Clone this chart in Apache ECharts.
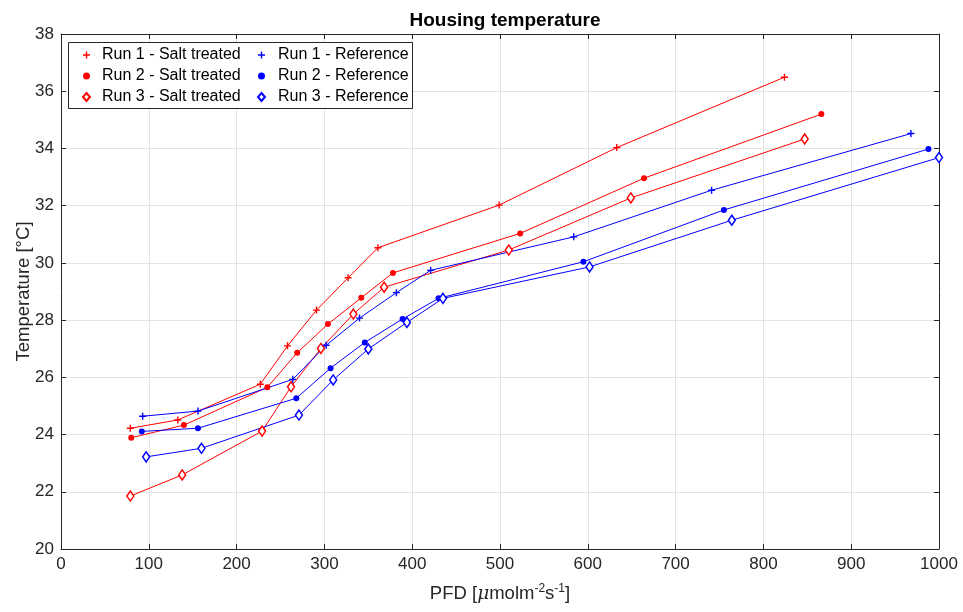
<!DOCTYPE html>
<html>
<head>
<meta charset="utf-8">
<title>Housing temperature</title>
<script src="https://cdn.jsdelivr.net/npm/echarts@6/dist/echarts.min.js"></script>
<style>
  html, body { margin: 0; padding: 0; background: #fff; }
  #chart { width: 963px; height: 612px; }
</style>
</head>
<body>
<div id="chart"></div>
<script>
  // PFD (x) and temperature (y) per run
  const pfdSalt1 = [79, 133, 227, 258, 291, 327, 361, 499, 633, 824];
  const tempSalt1 = [24.22, 24.51, 25.76, 27.10, 28.35, 29.48, 30.53, 32.02, 34.03, 36.49];
  const pfdSalt2 = [80, 140, 235, 269, 304, 342, 378, 523, 664, 866];
  const tempSalt2 = [23.89, 24.33, 25.65, 26.86, 27.86, 28.78, 29.65, 31.03, 32.96, 35.20];
  const pfdSalt3 = [79, 138, 229, 262, 296, 333, 368, 510, 649, 847];
  const tempSalt3 = [21.85, 22.59, 24.12, 25.67, 27.01, 28.21, 29.15, 30.45, 32.27, 34.33];
  const pfdRef1 = [93, 156, 264, 302, 340, 382, 421, 584, 741, 968];
  const tempRef1 = [24.64, 24.82, 25.93, 27.12, 28.07, 28.96, 29.74, 30.91, 32.54, 34.52];
  const pfdRef2 = [92, 156, 268, 307, 346, 389, 430, 595, 755, 988];
  const tempRef2 = [24.11, 24.22, 25.27, 26.32, 27.22, 28.04, 28.76, 30.04, 31.85, 33.98];
  const pfdRef3 = [97, 160, 271, 310, 350, 394, 435, 602, 764, 1000];
  const tempRef3 = [23.22, 23.52, 24.68, 25.91, 26.99, 27.92, 28.76, 29.86, 31.49, 33.68];

  const saltNames = ['Run 1 - Salt treated', 'Run 2 - Salt treated', 'Run 3 - Salt treated'];
  const refNames = ['Run 1 - Reference', 'Run 2 - Reference', 'Run 3 - Reference'];

  const plusIcon = 'path://M4,0H6V4H10V6H6V10H4V6H0V4H4Z';
  const axisColor = '#262626';
  const font = 'Liberation Sans, Arial, Helvetica, sans-serif';

  function zip(xs, ys) {
    let out = [];
    for (let i = 0; i < xs.length; i++) {
      out.push([xs[i], ys[i]]);
    }
    return out;
  }

  function makeSeries(name, xs, ys, color, marker) {
    let s = {
      name: name,
      type: 'line',
      data: zip(xs, ys),
      lineStyle: { color: color, width: 1 },
      itemStyle: { color: color },
      emphasis: { disabled: true },
      animation: false,
      z: 2
    };
    if (marker === 'plus') {
      s.symbol = plusIcon;
      s.symbolSize = 7;
    } else if (marker === 'dot') {
      s.symbol = 'circle';
      s.symbolSize = 6;
    } else {
      s.symbol = 'diamond';
      s.symbolSize = [7, 10];
      s.itemStyle = { color: '#fff', borderColor: color, borderWidth: 1.5 };
    }
    return s;
  }

  function legendCol(left, names, textPad) {
    return {
      orient: 'vertical',
      left: left,
      top: 47,
      itemWidth: 7,
      itemHeight: 8,
      itemGap: 5,
      padding: 0,
      selectedMode: false,
      textStyle: { fontSize: 16, color: '#000', fontFamily: font, padding: [0, 0, 0, textPad] },
      data: [
        { name: names[0], icon: plusIcon },
        { name: names[1], icon: 'circle' },
        { name: names[2], icon: 'diamond' }
      ]
    };
  }

  const frameAxis = {
    axisLine: { show: true, onZero: false, lineStyle: { color: axisColor, width: 1 } },
    axisTick: { show: true, inside: true, length: 5, lineStyle: { color: axisColor } },
    axisLabel: { show: false },
    splitLine: { show: false }
  };

  const chart = echarts.init(document.getElementById('chart'));
  chart.setOption({
    animation: false,
    textStyle: { fontFamily: font },
    title: {
      text: 'Housing temperature',
      left: 500,
      top: 6,
      textAlign: 'center',
      textStyle: { fontSize: 19, fontWeight: 'bold', color: '#000', fontFamily: font }
    },
    grid: { left: 61, right: 24, top: 34, bottom: 63, containLabel: false, outerBoundsMode: 'none' },
    legend: [
      legendCol(82, saltNames, 7),
      legendCol(257, refNames, 8)
    ],
    graphic: [
      {
        type: 'rect',
        z: 3,
        shape: { x: 68.5, y: 42.5, width: 344, height: 66 },
        style: { fill: '#fff', stroke: axisColor, lineWidth: 1 }
      }
    ],
    xAxis: [
      {
        type: 'value',
        min: 0,
        max: 1000,
        interval: 100,
        name: 'PFD [{mu|μ}molm{sup|-2}s{sup|-1}]',
        nameLocation: 'middle',
        nameGap: 34,
        nameTextStyle: {
          fontSize: 18.5,
          color: axisColor,
          fontFamily: font,
          rich: {
            mu: { fontSize: 18.5, fontStyle: 'italic', color: axisColor, fontFamily: 'DejaVu Serif' },
            sup: { fontSize: 12, color: axisColor, padding: [0, 0, 10, 0], fontFamily: font }
          }
        },
        axisLine: { show: true, onZero: false, lineStyle: { color: axisColor, width: 1 } },
        axisTick: { show: true, inside: true, length: 5, lineStyle: { color: axisColor } },
        axisLabel: {
          fontSize: 17,
          color: axisColor,
          margin: 7,
          fontFamily: font,
          formatter: function (v) { return String(v); }
        },
        splitLine: { show: true, lineStyle: { color: '#e3e3e3', width: 1 } }
      },
      Object.assign({ type: 'value', position: 'top', min: 0, max: 1000, interval: 100 }, frameAxis)
    ],
    yAxis: [
      {
        type: 'value',
        min: 20,
        max: 38,
        interval: 2,
        name: 'Temperature [°C]',
        nameLocation: 'middle',
        nameGap: 28,
        nameMoveOverlap: false,
        nameTextStyle: { fontSize: 18.5, color: axisColor, fontFamily: font },
        axisLine: { show: true, onZero: false, lineStyle: { color: axisColor, width: 1 } },
        axisTick: { show: true, inside: true, length: 5, lineStyle: { color: axisColor } },
        axisLabel: { fontSize: 17, color: axisColor, margin: 7, fontFamily: font },
        splitLine: { show: true, lineStyle: { color: '#e3e3e3', width: 1 } }
      },
      Object.assign({ type: 'value', position: 'right', min: 20, max: 38, interval: 2 }, frameAxis)
    ],
    series: [
      makeSeries(saltNames[0], pfdSalt1, tempSalt1, '#ff0000', 'plus'),
      makeSeries(saltNames[1], pfdSalt2, tempSalt2, '#ff0000', 'dot'),
      makeSeries(saltNames[2], pfdSalt3, tempSalt3, '#ff0000', 'diamond'),
      makeSeries(refNames[0], pfdRef1, tempRef1, '#0000ff', 'plus'),
      makeSeries(refNames[1], pfdRef2, tempRef2, '#0000ff', 'dot'),
      makeSeries(refNames[2], pfdRef3, tempRef3, '#0000ff', 'diamond')
    ]
  });
</script>
</body>
</html>
